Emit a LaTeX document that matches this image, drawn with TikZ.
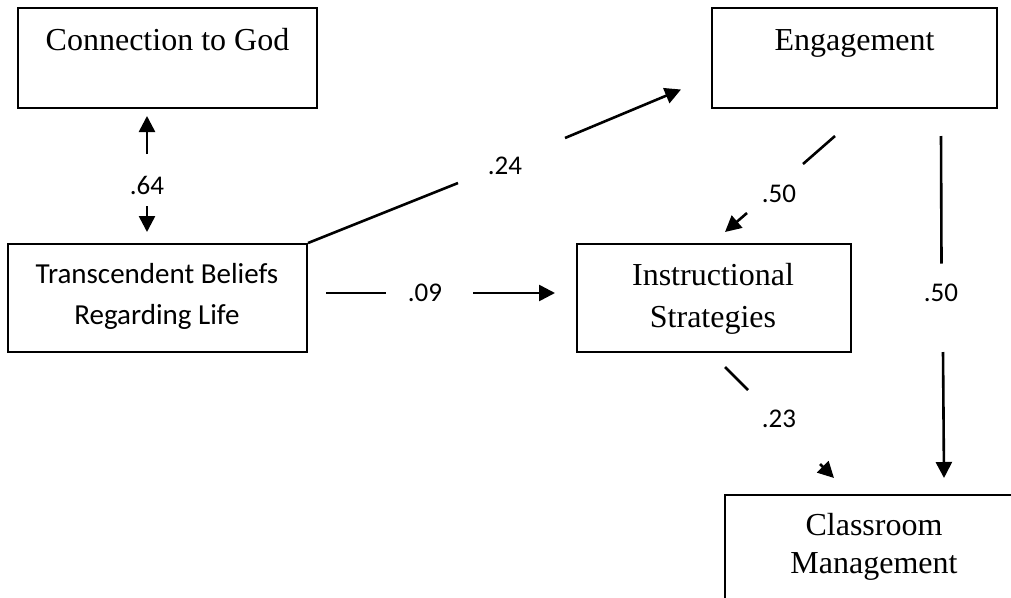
\documentclass[tikz,border=0pt]{standalone}
\usepackage{fontspec}
\usetikzlibrary{arrows.meta}
\newfontfamily\timesf{Liberation Serif}
\newfontfamily\calf{Carlito}
\begin{document}
\begin{tikzpicture}[x=1pt,y=-1pt,
  box/.style={draw, line width=2pt, inner sep=0pt},
  serif/.style={font=\timesf\fontsize{32}{40}\selectfont, inner sep=0pt},
  sans/.style={font=\calf\fontsize{29}{41}\selectfont, inner sep=0pt},
  lab/.style={font=\calf\fontsize{27}{32}\selectfont, inner sep=0pt},
  conn/.style={line width=2.6pt, -{Triangle[length=16pt,width=16pt]}},
]
\useasboundingbox (0,0) rectangle (1011,597);
\clip (0,0) rectangle (1011,597);
\fill[white] (0,0) rectangle (1011,597);

% boxes
\node[box, minimum width=299pt, minimum height=100pt] (c2g) at (167.5,58) {};
\node[box, minimum width=285pt, minimum height=100pt] (eng) at (854.5,58) {};
\node[box, minimum width=299pt, minimum height=108pt] (trans) at (157.5,298) {};
\node[box, minimum width=274pt, minimum height=108pt] (instr) at (714,298) {};
\node[box, minimum width=298pt, minimum height=130pt] (cm) at (874,560) {};

% texts
\node[serif, anchor=base] (c2gt) at (167.5,50) {Connection to God};
\node[serif, anchor=base] (engt) at (854.5,50) {Engagement};
\node[sans, anchor=base] (trans1) at (157,283) {Transcendent Beliefs};
\node[sans, anchor=base] (trans2) at (157,324) {Regarding Life};
\node[serif, anchor=base] (instr1) at (713,285) {Instructional};
\node[serif, anchor=base] (instr2) at (713,327) {Strategies};
\node[serif, anchor=base] (cm1) at (874,535) {Classroom};
\node[serif, anchor=base] (cm2) at (874,573) {Management};

% connector points
\coordinate (p64a) at (147,116);
\coordinate (p64b) at (147,154);
\coordinate (p64c) at (147,206);
\coordinate (p64d) at (147,232);

\coordinate (g24a) at (458,183);
\coordinate (g24b) at (565,138);
\coordinate (t24) at (681,89.5);

\coordinate (s09) at (326,293);
\coordinate (g09a) at (386,293);
\coordinate (g09b) at (473,293);
\coordinate (t09) at (555,293);

\coordinate (s50d) at (835,136);
\coordinate (g50da) at (803,164);
\coordinate (g50db) at (747,213);
\coordinate (t50d) at (725,232);

\coordinate (s50v) at (941,136);
\coordinate (g50va) at (941.5,263.5);
\coordinate (g50vb) at (943,352);
\coordinate (t50v) at (944,478);

\coordinate (s23) at (725,367);
\coordinate (g23a) at (748,390);
\coordinate (g23b) at (820,464);
\coordinate (t23) at (834,478);

% connectors
\draw[conn] (p64b) -- (p64a);
\draw[conn] (p64c) -- (p64d);
\draw[conn] (trans.north east) -- (g24a) (g24b) -- (t24);
\draw[conn] (s09) -- (g09a) (g09b) -- (t09);
\draw[conn] (s50d) -- (g50da) (g50db) -- (t50d);
\draw[conn] (s50v) -- (g50va) (g50vb) -- (t50v);
\draw[conn] (s23) -- (g23a) (g23b) -- (t23);

% labels
\node[lab] (l64) at (147,185) {.64};
\node[lab] (l24) at (505,166) {.24};
\node[lab] (l09) at (425,293) {.09};
\node[lab] (l50d) at (779,194) {.50};
\node[lab] (l50v) at (941,293) {.50};
\node[lab] (l23) at (779,419) {.23};
\end{tikzpicture}
\end{document}
